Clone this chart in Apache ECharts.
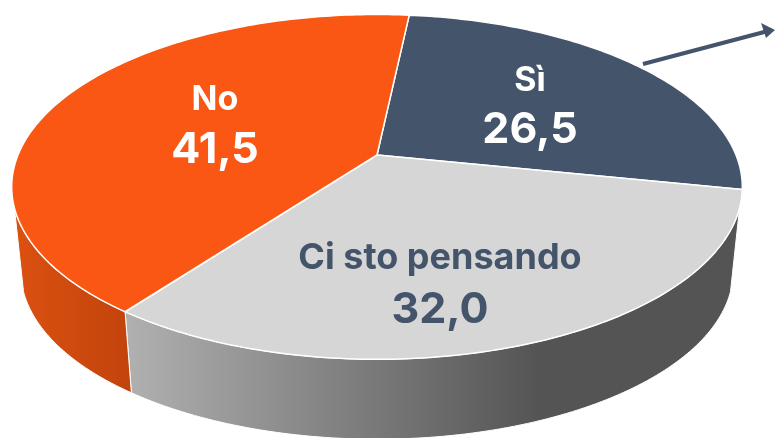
<!DOCTYPE html>
<html>
<head>
<meta charset="utf-8">
<style>
html,body{margin:0;padding:0;background:#fff}
#main{width:775px;height:438px}
</style>
<script src="https://cdn.jsdelivr.net/npm/echarts@6/dist/echarts.min.js"></script>
</head>
<body>
<div id="main"></div>
<script>
// chart data
var categories = ['Sì', 'Ci sto pensando', 'No'];
var values = [26.5, 32.0, 41.5];
var valueLabels = ['26,5', '32,0', '41,5'];

// colours, one per slice
var topColors = ['#44546A', '#D6D6D6', '#F95713'];
var textColors = ['#FFFFFF', '#44546A', '#FFFFFF'];

// disc geometry, tilted with a little perspective
var apexX = 377, apexY = 155, radiusX = 359, radiusY = 166.5, persp = 0.185;
var startAngle = 6.1;
var wallTopY = 240, wallScale = 0.975;
var wallFrom = 107.5, wallTo = 252.5;

// label centres: name line, value line; font size of the name line
var labelPos = [[530, 81, 130], [440, 258, 310], [215, 100, 150]];
var nameSizes = [34, 36, 34];

let chart = echarts.init(document.getElementById('main'));

let project = function(deg){
    let a = deg * Math.PI / 180;
    let w = 1 + persp * Math.cos(a);
    return [apexX + radiusX * Math.sin(a) / w, apexY - radiusY * Math.cos(a) / w];
};
let projectBottom = function(deg){
    let p = project(deg);
    return [apexX + (p[0] - apexX) * wallScale, wallTopY + (p[1] - apexY) * wallScale];
};
let arcPoints = function(from, to, fn){
    let pts = [];
    let n = Math.max(1, Math.ceil(Math.abs(to - from)));
    for(let i = 0; i <= n; i++){
        pts.push(fn(from + (to - from) * i / n));
    }
    return pts;
};
let sliceRange = function(idx){
    let total = values.reduce(function(s, v){ return s + v; }, 0);
    let sum = values.slice(0, idx).reduce(function(s, v){ return s + v; }, 0);
    return [startAngle + sum / total * 360, startAngle + (sum + values[idx]) / total * 360];
};

let wallFills = [
    '#44546A',
    new echarts.graphic.LinearGradient(128, 0, 540, 0, [
        {offset: 0, color: '#B0B0B0'},
        {offset: 1, color: '#545454'}
    ], true),
    new echarts.graphic.LinearGradient(20, 0, 128, 0, [
        {offset: 0, color: '#DA5010'},
        {offset: 1, color: '#C2440C'}
    ], true)
];

let renderWall = function(params, api){
    let idx = api.value(0);
    let r = sliceRange(idx);
    let from = Math.max(r[0], wallFrom), to = Math.min(r[1], wallTo);
    if(to <= from){
        return null;
    }
    let pts = arcPoints(from, to, project).concat(arcPoints(to, from, projectBottom));
    return {
        type: 'polygon',
        shape: {points: pts},
        style: {fill: wallFills[idx], stroke: '#fff', lineWidth: 1}
    };
};

let renderTop = function(params, api){
    let idx = api.value(0);
    let r = sliceRange(idx);
    let pts = [[apexX, apexY]].concat(arcPoints(r[0], r[1], project));
    return {
        type: 'polygon',
        shape: {points: pts},
        style: {fill: topColors[idx], stroke: '#fff', lineWidth: 1.5, lineJoin: 'round'}
    };
};

let renderLabel = function(params, api){
    let idx = api.value(0);
    let font = 'Inter, sans-serif';
    return {
        type: 'group',
        children: [{
            type: 'text',
            style: {
                x: labelPos[idx][0], y: labelPos[idx][1],
                text: categories[idx], fill: textColors[idx],
                font: '700 ' + nameSizes[idx] + 'px ' + font, align: 'center', verticalAlign: 'middle'
            }
        }, {
            type: 'text',
            style: {
                x: labelPos[idx][0], y: labelPos[idx][2],
                text: valueLabels[idx], fill: textColors[idx],
                font: '700 43px ' + font, align: 'center', verticalAlign: 'middle'
            }
        }]
    };
};

let seriesData = values.map(function(v, i){ return [i, v]; });

let option = {
    animation: false,
    backgroundColor: '#fff',
    series: [
        {type: 'custom', coordinateSystem: 'none', silent: true, z: 1, data: seriesData, renderItem: renderWall},
        {type: 'custom', coordinateSystem: 'none', silent: true, z: 2, data: seriesData, renderItem: renderTop},
        {type: 'custom', coordinateSystem: 'none', silent: true, z: 3, data: seriesData, renderItem: renderLabel}
    ],
    graphic: [
        // callout arrow at the top right
        {type: 'line', z: 10, shape: {x1: 643, y1: 64, x2: 768, y2: 31},
            style: {stroke: '#44546A', lineWidth: 4}},
        {type: 'polygon', z: 10, shape: {points: [[775, 30], [761, 23], [766, 38]]},
            style: {fill: '#44546A'}}
    ]
};
chart.setOption(option);
</script>
</body>
</html>
